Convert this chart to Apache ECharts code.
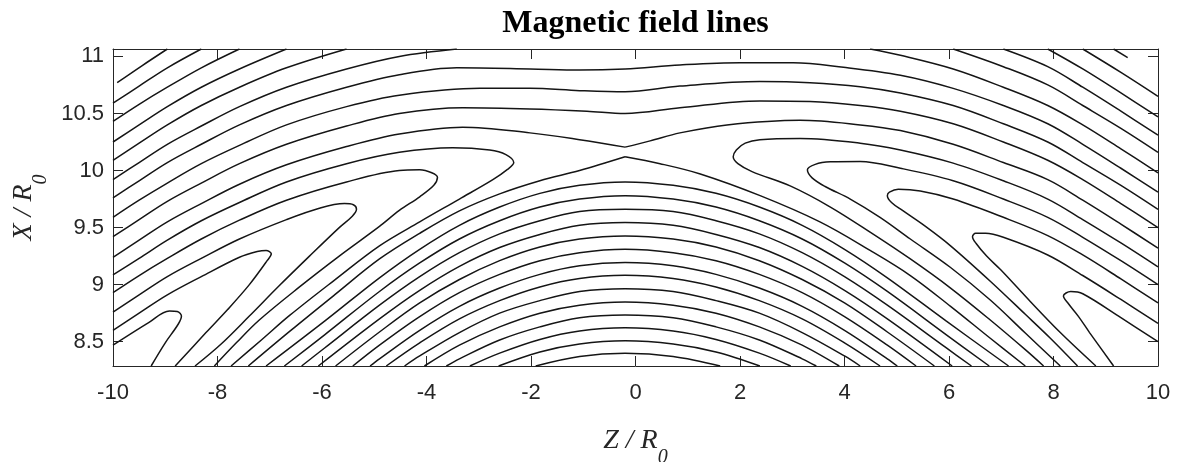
<!DOCTYPE html>
<html>
<head>
<meta charset="utf-8">
<script src="https://cdn.jsdelivr.net/npm/echarts@6/dist/echarts.min.js"></script>
<style>
  html, body { margin: 0; padding: 0; background: #ffffff; }
  #chart { width: 1182px; height: 462px; }
</style>
</head>
<body>
<div id="chart"></div>
<script>
// Axis ranges and tick values
const zRange = [-10, 10];
const xRange = [8.287, 11.065];
const zTicks = [-10, -8, -6, -4, -2, 0, 2, 4, 6, 8, 10];
const xTicks = [8.5, 9, 9.5, 10, 10.5, 11];

// Field lines, vertices as [Z/R0, X/R0]
// upper-left corner lines (left edge -> top edge)
const C0 = [[-9.92,10.77],[-9.44,10.92],[-8.96,11.065]];
const C1 = [[-10,10.59],[-9.50,10.74],[-8.96,10.90],[-8.31,11.065]];
const C2 = [[-10,10.43],[-9.50,10.58],[-8.96,10.73],[-8.31,10.90],[-7.58,11.065]];
const C3 = [[-10,10.25],[-9.50,10.40],[-8.96,10.56],[-8.31,10.73],[-7.58,10.89],[-6.68,11.065]];
const C4 = [[-10,10.09],[-9.50,10.24],[-8.96,10.40],[-8.31,10.57],[-7.58,10.73],[-6.68,10.90],[-5.53,11.065]];
const C5 = [[-10,9.92],[-9.50,10.07],[-8.96,10.23],[-8.31,10.39],[-7.58,10.56],[-6.68,10.73],[-5.53,10.89],[-4.52,11.0],[-3.42,11.065]];

// upper-right corner lines (top edge -> right edge)
const C0r = [[9.15,11.065],[9.42,10.99]];
const C1r = [[10,10.65],[9.29,10.86],[8.56,11.065]];
const C2r = [[10,10.47],[9.29,10.68],[8.56,10.89],[7.89,11.065]];
const C3r = [[10,10.31],[9.29,10.52],[8.56,10.73],[7.89,10.91],[7.04,11.065]];
const C4r = [[10,10.16],[9.29,10.37],[8.56,10.57],[7.89,10.75],[7.04,10.91],[6.08,11.065]];
const C5r = [[10,9.98],[9.29,10.19],[8.56,10.40],[7.89,10.57],[7.04,10.73],[6.08,10.89],[5.07,11.01],[4.49,11.065]];

// lines crossing above the X-line (left edge -> right edge)
const Lb = [[-10,9.76],[-9.50,9.91],[-8.96,10.07],[-8.31,10.23],[-7.58,10.40],[-6.68,10.57],[-5.53,10.73],[-4.52,10.84],[-3.42,10.90],[-2.02,10.89],[-1.07,10.88],[-0.20,10.89],[0.85,10.925],[2.0,10.945],[3.02,10.945],[3.98,10.905],[5.07,10.835],[6.08,10.72],[7.04,10.57],[7.89,10.41],[8.56,10.23],[9.29,10.02],[10,9.81]];
const Lc = [[-10,9.59],[-9.50,9.74],[-8.96,9.89],[-8.31,10.06],[-7.58,10.22],[-6.68,10.40],[-5.53,10.56],[-4.52,10.66],[-2.98,10.72],[-2.02,10.72],[-1.07,10.70],[-0.20,10.69],[0.85,10.74],[2.38,10.78],[3.34,10.77],[4.30,10.735],[5.07,10.68],[6.08,10.57],[7.04,10.41],[7.89,10.25],[8.56,10.07],[9.29,9.87],[10,9.66]];
const Ld = [[-10,9.42],[-9.50,9.57],[-8.96,9.73],[-8.31,9.89],[-7.58,10.06],[-6.68,10.23],[-5.53,10.39],[-4.52,10.50],[-3.31,10.55],[-2.02,10.54],[-0.93,10.52],[-0.20,10.50],[0.85,10.55],[2.38,10.61],[3.34,10.605],[4.30,10.57],[5.07,10.52],[6.08,10.41],[7.04,10.25],[7.89,10.09],[8.56,9.92],[9.29,9.71],[10,9.50]];
// upper separatrix branch, split at the V
const LeWest = [[-10,9.24],[-9.50,9.39],[-8.96,9.55],[-8.31,9.71],[-7.58,9.88],[-6.68,10.05],[-5.53,10.21],[-4.52,10.32],[-3.31,10.38],[-2.02,10.33],[-1.07,10.27],[-0.20,10.205]];
const LeEast = [[-0.20,10.205],[0.28,10.26],[0.85,10.33],[1.75,10.40],[3.15,10.44],[4.30,10.40],[5.07,10.35],[6.08,10.23],[7.04,10.07],[7.89,9.92],[8.56,9.74],[9.29,9.53],[10,9.32]];

// west hairpins (left edge -> tip -> bottom edge)
const H1 = [[-10,9.085],[-9.50,9.23],[-8.96,9.39],[-8.31,9.56],[-7.58,9.72],[-6.68,9.90],[-5.53,10.06],[-4.52,10.16],[-3.50,10.20],[-2.79,10.18],[-2.48,10.14],[-2.33,10.07],[-2.45,10.01],[-2.73,9.92],[-3.37,9.75],[-4.13,9.55],[-4.90,9.34],[-5.76,9.04],[-6.62,8.73],[-7.16,8.515],[-7.74,8.287]];
const H2 = [[-10,8.93],[-9.50,9.08],[-8.96,9.23],[-8.31,9.40],[-7.58,9.565],[-6.68,9.74],[-5.53,9.90],[-4.52,10.0],[-4.13,10.006],[-3.90,9.98],[-3.79,9.94],[-3.86,9.87],[-4.13,9.77],[-4.52,9.65],[-4.90,9.51],[-5.67,9.25],[-6.43,8.98],[-7.20,8.69],[-7.64,8.49],[-8.06,8.287]];
const H3 = [[-10,8.76],[-9.50,8.91],[-8.96,9.07],[-8.31,9.23],[-7.58,9.40],[-6.68,9.57],[-6.05,9.67],[-5.57,9.71],[-5.40,9.70],[-5.34,9.66],[-5.42,9.60],[-5.67,9.50],[-6.24,9.25],[-6.82,8.99],[-7.39,8.725],[-7.93,8.48],[-8.43,8.287]];
const H4 = [[-10,8.60],[-9.50,8.75],[-8.96,8.91],[-8.31,9.07],[-7.58,9.24],[-7.24,9.29],[-7.07,9.30],[-6.97,9.27],[-7.05,9.21],[-7.39,9.00],[-7.81,8.78],[-8.22,8.58],[-8.81,8.287]];
const H5 = [[-10,8.47],[-9.31,8.67],[-8.92,8.77],[-8.77,8.765],[-8.69,8.725],[-8.75,8.655],[-9.00,8.49],[-9.27,8.287]];

// east hairpins (right edge -> tip -> bottom edge)
const R1 = [[10,9.155],[9.29,9.365],[8.56,9.57],[7.89,9.75],[7.04,9.91],[6.08,10.065],[5.07,10.18],[4.30,10.24],[3.15,10.28],[2.38,10.27],[2.10,10.24],[1.93,10.18],[1.87,10.12],[1.96,10.06],[2.23,9.99],[2.96,9.865],[3.73,9.68],[4.49,9.46],[5.26,9.225],[6.03,8.97],[6.79,8.69],[7.46,8.43],[7.81,8.287]];
const R2 = [[10,9.0],[9.29,9.21],[8.56,9.415],[7.89,9.59],[7.04,9.75],[6.08,9.91],[5.07,10.02],[4.30,10.08],[3.73,10.076],[3.44,10.054],[3.29,10.006],[3.38,9.936],[3.63,9.86],[4.11,9.75],[4.68,9.59],[5.26,9.40],[6.03,9.15],[6.79,8.865],[7.46,8.576],[8.13,8.287]];
const R3 = [[10,8.84],[9.29,9.05],[8.56,9.26],[7.89,9.43],[7.04,9.59],[6.08,9.75],[5.45,9.82],[5.03,9.835],[4.86,9.81],[4.82,9.78],[4.90,9.72],[5.11,9.65],[5.55,9.51],[6.03,9.34],[6.79,9.03],[7.46,8.74],[7.94,8.53],[8.46,8.287]];
const R4 = [[10,8.66],[9.29,8.87],[8.56,9.08],[7.89,9.26],[7.04,9.415],[6.70,9.45],[6.51,9.45],[6.45,9.42],[6.52,9.36],[6.72,9.25],[6.99,9.13],[7.56,8.85],[8.13,8.58],[8.81,8.287]];
const R5 = [[10,8.50],[9.29,8.71],[8.56,8.92],[8.33,8.94],[8.19,8.90],[8.29,8.83],[8.48,8.72],[8.69,8.58],[9.15,8.287]];

// lower separatrix branch, split at the peak
const D0West = [[-7.41,8.287],[-6.62,8.59],[-5.76,8.91],[-4.90,9.225],[-4.13,9.45],[-3.37,9.646],[-2.60,9.795],[-1.83,9.91],[-1.07,10.0],[-0.20,10.12]];
const D0East = [[-0.20,10.12],[0.47,10.06],[1.24,9.97],[2.385,9.78],[3.53,9.55],[4.49,9.30],[5.26,9.08],[6.03,8.81],[6.79,8.53],[7.46,8.287]];

// closed arches under the X-line (bottom edge -> bottom edge)
const D1 = [[-7.07,8.287],[-5.95,8.68],[-4.90,9.06],[-4.13,9.31],[-3.37,9.52],[-2.60,9.68],[-1.83,9.80],[-1.07,9.87],[-0.20,9.90],[0.72,9.87],[1.54,9.80],[2.37,9.68],[3.19,9.52],[4.00,9.31],[4.82,9.06],[5.95,8.68],[7.14,8.287]];
const D2 = [[-6.72,8.287],[-5.95,8.56],[-4.90,8.94],[-4.13,9.19],[-3.37,9.40],[-2.60,9.56],[-1.83,9.68],[-1.07,9.75],[-0.20,9.78],[0.72,9.75],[1.54,9.68],[2.37,9.56],[3.19,9.40],[4.00,9.19],[4.82,8.94],[5.95,8.56],[6.77,8.287]];
const D3 = [[-6.39,8.287],[-5.95,8.445],[-4.90,8.82],[-4.13,9.07],[-3.37,9.28],[-2.60,9.445],[-1.83,9.56],[-1.07,9.64],[-0.20,9.66],[0.72,9.64],[1.54,9.56],[2.37,9.445],[3.19,9.28],[4.00,9.07],[4.82,8.82],[5.95,8.445],[6.43,8.287]];
const D4 = [[-6.07,8.287],[-4.90,8.70],[-4.13,8.95],[-3.37,9.16],[-2.60,9.325],[-1.83,9.44],[-1.07,9.52],[-0.20,9.544],[0.72,9.52],[1.54,9.44],[2.37,9.325],[3.19,9.16],[4.00,8.95],[4.82,8.70],[6.06,8.287]];
const D5 = [[-5.74,8.287],[-4.90,8.585],[-4.13,8.84],[-3.37,9.045],[-2.60,9.21],[-1.83,9.33],[-1.07,9.40],[-0.20,9.427],[0.72,9.40],[1.54,9.33],[2.37,9.21],[3.19,9.045],[4.00,8.84],[4.82,8.585],[5.72,8.287]];
const D6 = [[-5.41,8.287],[-4.90,8.47],[-4.13,8.72],[-3.37,8.93],[-2.60,9.09],[-1.83,9.21],[-1.07,9.28],[-0.20,9.31],[0.72,9.28],[1.54,9.21],[2.37,9.09],[3.19,8.93],[4.00,8.72],[4.82,8.47],[5.37,8.287]];
const D7 = [[-5.08,8.287],[-4.90,8.35],[-4.13,8.60],[-3.37,8.81],[-2.60,8.97],[-1.83,9.09],[-1.07,9.165],[-0.20,9.193],[0.72,9.165],[1.54,9.09],[2.37,8.97],[3.19,8.81],[4.00,8.60],[4.82,8.35],[5.01,8.287]];
const D8 = [[-4.77,8.287],[-4.13,8.49],[-3.37,8.70],[-2.60,8.86],[-1.83,8.98],[-1.07,9.054],[-0.20,9.082],[0.72,9.054],[1.54,8.98],[2.37,8.86],[3.19,8.70],[4.00,8.49],[4.68,8.287]];
const D9 = [[-4.42,8.287],[-4.13,8.375],[-3.37,8.58],[-2.60,8.75],[-1.83,8.86],[-1.07,8.94],[-0.20,8.965],[0.72,8.94],[1.54,8.86],[2.37,8.75],[3.19,8.58],[4.00,8.375],[4.30,8.287]];
const D10 = [[-4.04,8.287],[-3.37,8.47],[-2.60,8.63],[-1.83,8.75],[-1.07,8.82],[-0.20,8.848],[0.72,8.82],[1.54,8.75],[2.37,8.63],[3.19,8.47],[3.90,8.287]];
const D11 = [[-3.62,8.287],[-3.37,8.35],[-2.60,8.515],[-1.83,8.63],[-1.07,8.71],[-0.20,8.734],[0.72,8.71],[1.54,8.63],[2.37,8.515],[3.19,8.35],[3.46,8.287]];
const D12 = [[-3.17,8.287],[-2.60,8.40],[-1.83,8.52],[-1.07,8.594],[-0.20,8.622],[0.72,8.594],[1.54,8.52],[2.37,8.40],[2.97,8.287]];
const D13 = [[-2.62,8.287],[-1.83,8.41],[-1.07,8.48],[-0.20,8.508],[0.72,8.48],[1.54,8.41],[2.38,8.287]];
const D14 = [[-1.91,8.287],[-1.07,8.37],[-0.20,8.398],[0.72,8.37],[1.62,8.287]];

const fieldLines = [
  C0, C1, C2, C3, C4, C5,
  C0r, C1r, C2r, C3r, C4r, C5r,
  Lb, Lc, Ld, LeWest, LeEast,
  H1, H2, H3, H4, H5,
  R1, R2, R3, R4, R5,
  D0West, D0East,
  D1, D2, D3, D4, D5, D6, D7, D8, D9, D10, D11, D12, D13, D14
];

const axisColor = '#262626';
const sansFont = '"Liberation Sans", Arial, Helvetica, sans-serif';
const serifFont = '"Liberation Serif", "Times New Roman", serif';

const frameAxis = (extra) => Object.assign({
  type: 'value',
  axisLine: { show: true, onZero: false, lineStyle: { color: axisColor, width: 1 } },
  axisTick: { show: true, inside: true, length: 10, lineStyle: { color: axisColor, width: 1 } },
  splitLine: { show: false },
  axisLabel: { show: false }
}, extra);

const nameRich = {
  i: { fontFamily: serifFont, fontStyle: 'italic', fontSize: 28, color: axisColor, lineHeight: 54, verticalAlign: 'middle' },
  s: { fontFamily: serifFont, fontStyle: 'italic', fontSize: 20, color: axisColor, lineHeight: 54, verticalAlign: 'bottom' }
};

const chart = echarts.init(document.getElementById('chart'), null, { renderer: 'canvas' });

chart.setOption({
  animation: false,
  backgroundColor: '#ffffff',
  grid: { left: 113, right: 24, top: 49, bottom: 96, containLabel: false, outerBoundsMode: 'none' },
  graphic: [{
    type: 'text',
    x: 635.5,
    y: 24,
    style: {
      text: 'Magnetic field lines',
      font: 'bold 32px ' + serifFont,
      fill: '#000000',
      align: 'center',
      verticalAlign: 'middle'
    }
  }],
  xAxis: [
    frameAxis({
      position: 'bottom', min: zRange[0], max: zRange[1], interval: 2,
      axisLabel: { show: true, color: axisColor, fontFamily: sansFont, fontSize: 22, margin: 16, showMinLabel: true, showMaxLabel: true },
      name: '{i|Z / R}{s|0}', nameLocation: 'middle', nameGap: 48,
      nameTextStyle: { rich: nameRich }
    }),
    frameAxis({ position: 'top', min: zRange[0], max: zRange[1], interval: 2 })
  ],
  yAxis: [
    frameAxis({
      position: 'left', min: xRange[0], max: xRange[1],
      axisTick: { show: true, inside: true, length: 10, customValues: xTicks, lineStyle: { color: axisColor, width: 1 } },
      axisLabel: { show: true, customValues: xTicks, color: axisColor, fontFamily: sansFont, fontSize: 22, margin: 9 },
      name: '{i|X / R}{s|0}', nameLocation: 'middle', nameRotate: 90, nameGap: 62,
      nameTextStyle: { rich: nameRich }
    }),
    frameAxis({
      position: 'right', min: xRange[0], max: xRange[1],
      axisTick: { show: true, inside: true, length: 10, customValues: xTicks, lineStyle: { color: axisColor, width: 1 } }
    })
  ],
  series: fieldLines.map((pts) => ({
    type: 'line',
    xAxisIndex: 0,
    yAxisIndex: 0,
    data: pts,
    smooth: 0.35,
    symbol: 'none',
    silent: true,
    clip: true,
    lineStyle: { color: '#151515', width: 1.5 }
  }))
});
</script>
</body>
</html>
